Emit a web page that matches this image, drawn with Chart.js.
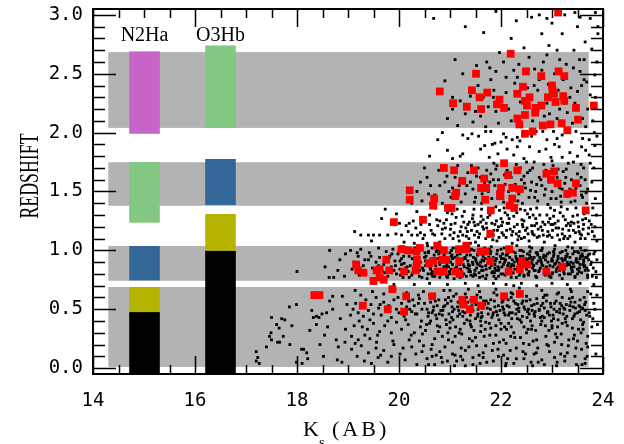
<!DOCTYPE html>
<html>
<head>
<meta charset="utf-8">
<title>Redshift vs Ks</title>
<script src="https://cdn.jsdelivr.net/npm/chart.js@4.4.1/dist/chart.umd.min.js"></script>
<style>
  html, body { margin: 0; padding: 0; background: #fff; }
  #wrap { width: 624px; height: 444px; }
</style>
</head>
<body>
<div id="wrap"><canvas id="zChart" width="624" height="444"></canvas></div>
<script>
// Axis ticks
const xTickValues = [14, 16, 18, 20, 22, 24];
const yTickValues = [0, 0.5, 1.0, 1.5, 2.0, 2.5, 3.0];

// Grey redshift windows (z ranges) and their Ks extent
const bandLow  = [0.01, 0.742, 1.379, 2.04];
const bandHigh = [0.689, 1.037, 1.748, 2.684];
const bandK    = [14.3, 23.72];

// Line coverage columns
const n2haK      = [14.71, 15.31];
const n2haLow    = [-0.05, 0.476, 0.745, 1.235, 1.99];
const n2haHigh   = [0.476, 0.689, 1.037, 1.75, 2.69];
const n2haColors = ['#000000', '#b4b400', '#336799', '#82c882', '#c864c8'];

const o3hbK      = [16.2, 16.8];
const o3hbLow    = [-0.05, 0.997, 1.385, 2.04];
const o3hbHigh   = [0.997, 1.309, 1.776, 2.74];
const o3hbColors = ['#000000', '#b4b400', '#336799', '#82c882'];

// Parent catalogue (Ks, z)
const fieldBright = [17.2,0.14, 17.23,0.09, 17.2,0.06, 17.26,0.04, 17.5,0.24, 17.46,0.27, 17.5,0.43, 17.6,0.37, 17.65,0.34, 17.7,0.42, 17.76,0.41, 17.73,0.27, 17.86,0.2, 17.66,0.22, 17.99,0.54, 17.99,0.05, 18.1,0.04, 18.09,0.16, 18.13,0.16, 18.19,0.13, 18.21,0.08, 18.25,0.32, 18.29,0.49, 18.32,0.43, 18.38,0.44, 18.38,0.37, 18.43,0.43, 18.49,0.46, 18.52,0.1, 18.54,0.28, 18.58,0.47, 18.64,0.57, 18.7,0.61, 18.77,0.24, 18.79,0.07, 18.81,0.18, 18.88,0.05, 18.89,0.61, 18.94,0.22, 18.98,0.54, 17.4,0.18, 17.9,0.36, 18.6,0.35, 18.7,0.5, 18.85,0.42, 18.95,0.33, 17.85,0.52, 18.45,0.2, 17.49,0.3, 17.62,0.22];

const fieldLowZ = [19.07,0.27, 19.07,0.16, 19.14,0.66, 19.14,0.21, 19.2,0.24, 19.26,0.19, 19.33,0.28, 19.43,0.25, 19.46,0.04, 19.56,0.22, 19.59,0.09, 19.64,0.11, 19.05,0.45, 19.1,0.5, 19.15,0.55, 19.2,0.47, 19.25,0.52, 19.3,0.44, 19.35,0.58, 19.4,0.49, 19.45,0.54, 19.5,0.46, 19.55,0.6, 19.6,0.51, 19.65,0.45, 19.7,0.56, 19.75,0.49, 19.8,0.53, 19.85,0.43, 19.9,0.58, 19.95,0.5, 20.0,0.47, 20.05,0.55, 20.1,0.44, 20.15,0.52, 20.2,0.57, 20.25,0.48, 20.3,0.53, 20.35,0.46, 20.4,0.59, 20.45,0.5, 19.12,0.36, 19.22,0.4, 19.38,0.33, 19.5,0.38, 19.62,0.31, 19.72,0.36, 19.85,0.3, 19.95,0.39, 20.05,0.33, 20.18,0.37, 20.3,0.3, 20.42,0.35, 19.25,0.62, 19.48,0.65, 19.7,0.63, 19.92,0.67, 20.15,0.64, 20.38,0.62, 19.18,0.1, 19.32,0.06, 19.7,0.15, 19.78,0.05, 19.9,0.2, 20.02,0.12, 20.12,0.07, 20.25,0.18, 20.35,0.03, 20.45,0.14, 19.55,0.17, 19.85,0.1, 20.2,0.24, 20.4,0.23, 19.4,0.13];

const fieldLowZFaint = [20.5,0.55, 20.52,0.32, 20.55,0.08, 20.58,0.47, 20.6,0.62, 20.62,0.4, 20.65,0.2, 20.68,0.52, 20.7,0.03, 20.72,0.45, 20.75,0.36, 20.78,0.58, 20.8,0.14, 20.82,0.49, 20.85,0.27, 20.88,0.66, 20.9,0.53, 20.92,0.41, 20.95,0.06, 20.98,0.46, 21.0,0.34, 21.02,0.57, 21.05,0.22, 21.08,0.5, 21.1,0.11, 21.12,0.63, 21.15,0.44, 21.18,0.3, 21.2,0.55, 21.22,0.17, 21.25,0.48, 21.28,0.38, 21.3,0.02, 21.32,0.6, 21.35,0.51, 21.38,0.25, 21.4,0.45, 21.42,0.35, 21.45,0.09, 21.48,0.56, 21.5,0.42, 21.52,0.19, 21.55,0.5, 21.58,0.65, 21.6,0.31, 21.62,0.47, 21.65,0.13, 21.68,0.54, 21.7,0.39, 21.72,0.05, 21.75,0.46, 21.78,0.28, 21.8,0.58, 21.82,0.43, 21.85,0.21, 21.88,0.52, 21.9,0.36, 21.92,0.62, 21.95,0.1, 21.98,0.49, 22.0,0.33, 22.02,0.56, 22.05,0.24, 22.08,0.45, 22.1,0.04, 22.12,0.53, 22.15,0.38, 22.18,0.15, 22.2,0.6, 22.22,0.47, 22.25,0.3, 22.28,0.55, 22.3,0.08, 22.32,0.42, 22.35,0.51, 22.38,0.26, 22.4,0.64, 22.42,0.44, 22.45,0.35, 22.48,0.12, 22.5,0.57, 22.52,0.48, 22.55,0.2, 22.58,0.4, 22.6,0.53, 22.62,0.02, 22.65,0.46, 22.68,0.32, 22.7,0.59, 22.72,0.17, 22.75,0.5, 22.78,0.37, 22.8,0.07, 22.82,0.55, 22.85,0.43, 22.88,0.27, 22.9,0.62, 22.92,0.48, 22.95,0.14, 22.98,0.52, 23.0,0.34, 23.02,0.45, 23.05,0.22, 23.08,0.57, 23.1,0.05, 23.12,0.41, 23.15,0.5, 23.18,0.29, 23.2,0.6, 23.22,0.46, 23.25,0.1, 23.28,0.54, 23.3,0.36, 23.32,0.19, 23.35,0.49, 23.38,0.65, 23.4,0.42, 23.42,0.25, 23.45,0.56, 23.48,0.03, 23.5,0.47, 23.52,0.33, 23.55,0.58, 23.58,0.16, 23.6,0.51, 23.62,0.39, 23.65,0.08, 23.68,0.45, 23.7,0.27,
  20.55,0.5, 20.65,0.47, 20.75,0.53, 20.85,0.45, 20.95,0.55, 21.05,0.48, 21.15,0.52, 21.25,0.44, 21.35,0.56, 21.45,0.49, 21.55,0.46, 21.65,0.51, 21.75,0.55, 21.85,0.47, 21.95,0.53, 22.05,0.5, 22.15,0.45, 22.25,0.57, 22.35,0.48, 22.45,0.52, 22.55,0.46, 22.65,0.54, 22.75,0.49, 22.85,0.51, 22.95,0.45, 23.05,0.55, 23.15,0.47, 23.25,0.5, 23.35,0.53, 23.45,0.46, 23.55,0.52, 23.65,0.49, 20.6,0.38, 20.8,0.35, 21.0,0.39, 21.2,0.33, 21.4,0.37, 21.6,0.4, 21.8,0.34, 22.0,0.38, 22.2,0.35, 22.4,0.39, 22.6,0.33, 22.8,0.4, 23.0,0.36, 23.2,0.38, 23.4,0.34, 23.6,0.37, 20.7,0.25, 20.9,0.18, 21.1,0.27, 21.3,0.15, 21.5,0.26, 21.7,0.19, 21.9,0.28, 22.1,0.21, 22.3,0.17, 22.5,0.3, 22.7,0.24, 22.9,0.2, 23.1,0.26, 23.3,0.13, 23.5,0.23, 23.7,0.18, 20.65,0.1, 20.85,0.05, 21.05,0.12, 21.25,0.07, 21.45,0.03, 21.65,0.09, 21.85,0.06, 22.05,0.11, 22.25,0.04, 22.45,0.08, 22.65,0.12, 22.85,0.03, 23.05,0.09, 23.25,0.06, 23.45,0.1, 23.65,0.04, 20.7,0.62, 21.0,0.66, 21.3,0.63, 21.6,0.6, 21.9,0.67, 22.2,0.64, 22.5,0.61, 22.8,0.66, 23.1,0.63, 23.4,0.6, 23.7,0.65];

const fieldLowZExtra = [20.13,0.41, 20.27,0.58, 20.33,0.12, 20.46,0.29, 20.57,0.44, 20.63,0.16, 20.71,0.57, 20.77,0.31, 20.83,0.09, 20.87,0.52, 20.93,0.37, 20.97,0.24, 21.03,0.43, 21.07,0.61, 21.13,0.06, 21.17,0.49, 21.23,0.29, 21.27,0.55, 21.33,0.41, 21.37,0.18, 21.43,0.53, 21.47,0.32, 21.53,0.62, 21.57,0.11, 21.63,0.44, 21.67,0.27, 21.73,0.51, 21.77,0.38, 21.83,0.15, 21.87,0.57, 21.93,0.45, 21.97,0.22, 22.03,0.52, 22.07,0.35, 22.13,0.08, 22.17,0.47, 22.23,0.63, 22.27,0.26, 22.33,0.54, 22.37,0.41, 22.43,0.14, 22.47,0.5, 22.53,0.33, 22.57,0.58, 22.63,0.23, 22.67,0.48, 22.73,0.05, 22.77,0.43, 22.83,0.6, 22.87,0.36, 22.93,0.19, 22.97,0.55, 23.03,0.42, 23.07,0.29, 23.13,0.64, 23.17,0.12, 23.23,0.51, 23.27,0.39, 23.33,0.24, 23.37,0.56, 23.43,0.44, 23.47,0.17, 23.53,0.53, 23.57,0.3, 23.63,0.6, 23.67,0.21, 23.73,0.47, 23.78,0.35, 23.82,0.55, 23.86,0.12, 23.8,0.42, 23.88,0.62, 20.21,0.5, 20.38,0.55, 20.54,0.37, 20.67,0.49, 20.79,0.46, 20.91,0.58, 21.04,0.52, 21.16,0.56, 21.29,0.47, 21.41,0.58, 21.54,0.44, 21.66,0.57, 21.79,0.5, 21.91,0.48, 22.04,0.57, 22.16,0.52, 22.29,0.46, 22.41,0.55, 22.54,0.5, 22.66,0.44, 22.79,0.53, 22.91,0.47, 23.04,0.5, 23.16,0.55, 23.29,0.44, 23.41,0.52, 23.54,0.48, 23.66,0.56, 20.24,0.28, 20.48,0.19, 20.73,0.11, 20.96,0.3, 21.21,0.1, 21.44,0.23, 21.69,0.33, 21.94,0.16, 22.19,0.27, 22.44,0.21, 22.69,0.13, 22.94,0.32, 23.19,0.2, 23.44,0.28, 23.69,0.1, 20.58,0.03, 21.09,0.02, 21.59,0.04, 22.09,0.02, 22.59,0.05, 23.09,0.02, 23.59,0.03, 21.36,0.67, 21.86,0.64, 22.36,0.68, 22.86,0.62, 23.36,0.67, 23.76,0.63, 20.48,0.65, 19.98,0.6, 19.78,0.4, 19.63,0.54, 19.43,0.41, 19.28,0.35, 19.58,0.28, 19.88,0.23, 20.08,0.17, 20.32,0.46, 20.19,0.57, 20.44,0.4];

const fieldLowZDense = [20.62,0.56, 20.74,0.42, 20.86,0.49, 20.97,0.6, 21.06,0.41, 21.19,0.46, 21.31,0.53, 21.39,0.4, 21.51,0.54, 21.61,0.43, 21.71,0.57, 21.84,0.45, 21.96,0.41, 22.06,0.47, 22.14,0.58, 22.21,0.42, 22.31,0.5, 22.43,0.57, 22.51,0.43, 22.61,0.49, 22.71,0.55, 22.81,0.44, 22.89,0.57, 22.99,0.4, 23.09,0.48, 23.19,0.53, 23.26,0.42, 23.34,0.59, 23.46,0.51, 23.56,0.41, 23.64,0.54, 23.74,0.44, 23.84,0.5, 23.89,0.37, 21.11,0.35, 21.61,0.36, 22.11,0.33, 22.61,0.36, 23.11,0.35, 23.61,0.33];

const fieldGap07 = [20.3,0.71, 20.6,0.72, 20.95,0.71, 21.3,0.72, 21.55,0.7, 21.85,0.72, 22.1,0.71, 22.4,0.72, 22.7,0.7, 23.0,0.72, 23.3,0.71, 23.55,0.72, 19.5,0.72, 19.9,0.71, 23.82,0.71, 22.25,0.7];

const fieldZ09 = [18.0,0.82, 18.64,1.0, 18.84,0.92, 18.95,0.97, 19.05,1.0, 18.63,0.77, 18.72,0.77, 18.93,0.78, 19.08,0.84, 19.12,0.9, 19.2,0.95, 19.25,1.01, 19.3,0.87, 19.35,0.8, 19.4,0.92, 19.42,0.98, 19.48,0.85, 19.52,0.76, 19.55,0.9, 19.6,1.02, 19.62,0.94, 19.68,0.82, 19.7,0.88, 19.75,0.99, 19.78,0.78, 19.82,0.95, 19.85,0.86, 19.88,1.01, 19.92,0.91, 19.95,0.8, 19.98,0.97, 20.02,0.84, 20.05,0.93, 20.08,0.77, 20.1,0.89, 20.15,1.02, 20.18,0.82, 20.2,0.95, 20.22,0.87, 20.25,0.79, 20.28,0.99, 20.3,0.92, 20.32,0.85, 20.38,0.97, 20.4,0.78, 20.42,0.9, 20.45,1.01, 20.48,0.83, 20.5,0.94, 20.52,0.87, 20.55,0.76, 20.58,0.98, 20.6,0.91, 20.62,0.84, 20.65,1.02, 20.68,0.8, 20.7,0.93, 20.72,0.87, 20.78,0.97, 20.8,0.77, 20.82,0.9, 20.85,0.83, 20.88,0.95, 20.9,1.01, 20.92,0.86, 20.95,0.79, 20.98,0.92, 21.0,0.98, 21.02,0.84, 21.05,0.88, 21.08,0.76, 21.1,0.94, 21.12,1.02, 21.15,0.82, 21.18,0.89, 21.2,0.97, 21.22,0.8, 21.25,0.92, 21.28,0.86, 21.3,0.99, 21.32,0.78, 21.35,0.91, 21.38,0.84, 21.4,0.96, 21.42,1.01, 21.45,0.88, 21.48,0.8, 21.5,0.93, 21.52,0.85, 21.55,0.98, 21.58,0.77, 21.6,0.9, 21.62,0.83, 21.65,0.95, 21.68,1.02, 21.7,0.87, 21.72,0.79, 21.75,0.92, 21.78,0.85, 21.8,0.99, 21.82,0.81, 21.85,0.94, 21.88,0.88, 21.9,0.76, 21.92,0.97, 21.95,0.83, 21.98,0.9, 22.0,1.01, 22.02,0.86, 22.05,0.93, 22.08,0.79, 22.1,0.96, 22.12,0.84, 22.15,0.89, 22.18,1.02, 22.2,0.8, 22.22,0.92, 22.25,0.87, 22.28,0.98, 22.3,0.77, 22.32,0.91, 22.35,0.83, 22.38,0.95, 22.4,1.0, 22.42,0.86, 22.45,0.79, 22.48,0.93, 22.5,0.88, 22.52,0.97, 22.55,0.82, 22.58,0.9, 22.6,1.02, 22.62,0.85, 22.65,0.94, 22.68,0.78, 22.7,0.89, 22.72,0.96, 22.75,0.83, 22.78,0.92, 22.8,1.0, 22.82,0.87, 22.85,0.8, 22.88,0.95, 22.9,0.84, 22.92,0.9, 22.95,0.98, 22.98,0.77, 23.0,0.93, 23.02,0.86, 23.05,1.01, 23.08,0.82, 23.1,0.91, 23.12,0.95, 23.15,0.79, 23.18,0.88, 23.2,0.99, 23.22,0.84, 23.25,0.92, 23.28,0.87, 23.3,0.97, 23.32,0.8, 23.35,0.94, 23.38,0.86, 23.4,1.02, 23.42,0.89, 23.45,0.78, 23.48,0.93, 23.5,0.84, 23.52,0.98, 23.55,0.88, 23.58,0.81, 23.6,0.95, 23.62,0.9, 23.65,1.0, 23.68,0.85, 23.7,0.79, 23.72,0.92,
  20.0,0.99, 20.12,0.99, 20.35,1.0, 20.58,0.99, 20.75,1.0, 21.03,1.0, 21.27,0.99, 21.47,1.0, 21.7,0.99, 21.93,1.0, 22.15,0.99, 22.37,1.0, 22.57,0.99, 22.78,1.0, 23.03,0.99, 23.27,1.0, 23.5,0.99, 19.8,0.93, 20.05,0.88, 20.3,0.88, 20.55,0.88, 20.8,0.88, 21.05,0.93, 21.3,0.93, 21.55,0.88, 21.8,0.93, 22.05,0.88, 22.3,0.93, 22.55,0.93, 22.8,0.88, 23.05,0.88, 23.3,0.9, 23.55,0.93, 19.9,0.83, 20.15,0.83, 20.4,0.83, 20.65,0.82, 20.9,0.83, 21.15,0.84, 21.4,0.82, 21.65,0.83, 21.9,0.83, 22.15,0.82, 22.4,0.84, 22.65,0.83, 22.9,0.82, 23.15,0.83, 23.4,0.82, 23.65,0.83, 20.2,0.77, 20.45,0.77, 20.7,0.78, 20.95,0.77, 21.2,0.77, 21.45,0.78, 21.7,0.76, 21.95,0.78, 22.2,0.77, 22.45,0.78, 22.7,0.77, 22.95,0.78, 23.2,0.76, 23.45,0.77, 23.7,0.77];

const fieldZ09Extra = [19.86,0.97, 19.93,0.87, 20.03,0.79, 20.09,0.95, 20.16,0.86, 20.23,1.0, 20.27,0.81, 20.34,0.9, 20.39,0.94, 20.46,0.85, 20.51,0.98, 20.57,0.8, 20.63,0.89, 20.69,0.96, 20.74,0.84, 20.81,0.99, 20.86,0.91, 20.93,0.78, 20.97,0.86, 21.03,0.95, 21.09,0.82, 21.13,0.99, 21.19,0.88, 21.24,0.78, 21.29,0.94, 21.34,0.85, 21.39,1.0, 21.44,0.9, 21.49,0.83, 21.54,0.96, 21.59,0.87, 21.64,0.78, 21.69,0.93, 21.74,0.89, 21.79,0.97, 21.84,0.82, 21.89,0.91, 21.94,0.86, 21.99,0.95, 22.04,0.8, 22.09,0.92, 22.14,0.98, 22.19,0.86, 22.24,0.81, 22.29,0.95, 22.34,0.89, 22.39,0.84, 22.44,0.99, 22.49,0.9, 22.54,0.79, 22.59,0.94, 22.64,0.87, 22.69,0.98, 22.74,0.82, 22.79,0.9, 22.84,0.96, 22.89,0.86, 22.94,0.79, 22.99,0.91, 23.04,0.97, 23.09,0.84, 23.14,0.89, 23.19,0.93, 23.24,0.8, 23.29,0.95, 23.34,0.88, 23.39,0.83, 23.44,0.99, 23.49,0.9, 23.54,0.85, 23.59,0.97, 23.64,0.87, 23.69,0.94, 23.76,0.88, 23.82,0.97, 23.86,0.82, 23.79,0.78, 23.88,0.92, 20.02,0.91, 20.26,0.93, 20.52,0.91, 20.77,0.93, 21.01,0.9, 21.26,0.88, 21.51,0.91, 21.76,0.94, 22.01,0.93, 22.26,0.9, 22.51,0.92, 22.76,0.94, 23.01,0.91, 23.26,0.93, 23.51,0.9, 23.71,0.96, 20.13,0.85, 20.38,0.86, 20.63,0.8, 20.88,0.86, 21.13,0.86, 21.38,0.87, 21.63,0.86, 21.88,0.85, 22.13,0.87, 22.38,0.81, 22.63,0.87, 22.88,0.85, 23.13,0.86, 23.38,0.85, 23.63,0.86, 20.06,1.03, 20.31,1.02, 20.56,1.04, 20.81,1.03, 21.06,1.02, 21.31,1.03, 21.56,1.04, 21.81,1.03, 22.06,1.02, 22.31,1.04, 22.56,1.03, 22.81,1.02, 23.06,1.04, 23.31,1.03, 23.56,1.02, 19.6,0.87, 19.45,0.95, 19.33,0.92, 19.22,0.79, 19.72,0.81, 19.18,0.98, 18.55,0.86, 18.8,0.83];

const fieldZ09Dense = [20.53,0.95, 20.61,0.86, 20.66,0.78, 20.73,0.99, 20.79,0.9, 20.84,0.8, 20.89,0.97, 20.94,0.88, 20.99,0.82, 21.04,0.96, 21.11,0.85, 21.16,0.93, 21.21,0.84, 21.23,1.0, 21.27,0.8, 21.33,0.96, 21.36,0.88, 21.41,0.79, 21.46,0.94, 21.53,0.89, 21.57,0.81, 21.61,0.97, 21.66,0.91, 21.71,0.84, 21.77,1.01, 21.81,0.87, 21.86,0.78, 21.91,0.93, 21.96,0.85, 22.03,0.97, 22.07,0.9, 22.11,0.81, 22.17,0.94, 22.21,0.88, 22.23,0.99, 22.27,0.84, 22.33,0.92, 22.36,0.79, 22.43,0.95, 22.46,0.87, 22.53,0.8, 22.56,0.96, 22.61,0.89, 22.67,0.83, 22.71,0.98, 22.73,0.91, 22.77,0.85, 22.83,0.94, 22.87,0.79, 22.91,0.97, 22.96,0.87, 23.01,0.81, 23.03,0.95, 23.07,0.89, 23.11,0.85, 23.16,0.98, 23.21,0.91, 23.23,0.82, 23.27,0.95, 23.31,0.88, 23.36,0.8, 23.41,0.97, 23.43,0.86, 23.47,0.91, 23.53,0.82, 23.56,0.95, 23.61,0.88, 23.66,0.94, 23.71,0.83, 23.74,0.97, 23.77,0.9, 23.81,0.85, 23.84,0.99, 23.87,0.77, 21.14,0.96, 21.63,0.92, 22.12,0.96, 22.62,0.92, 23.12,0.93, 23.62,0.92, 21.37,0.82, 21.87,0.81, 22.37,0.88, 22.87,0.92, 23.37,0.9, 21.0,0.8, 21.5,0.79, 22.0,0.8, 22.5,0.84, 23.0,0.8, 23.5,0.8];

const fieldZ12 = [19.13,1.16, 19.25,1.13, 19.4,1.13, 19.5,1.13, 19.62,1.13, 19.78,1.13, 19.94,1.14, 20.05,1.13, 20.25,1.13, 20.36,1.13, 20.42,1.15, 20.5,1.13, 19.46,1.08, 19.73,1.35, 19.66,1.27, 19.95,1.31, 20.01,1.23, 20.2,1.23, 20.14,1.21, 20.28,1.25, 20.43,1.22, 20.6,1.3, 20.72,1.36, 20.8,1.25, 20.85,1.18, 20.9,1.1, 20.95,1.32, 21.02,1.22, 21.08,1.15, 21.12,1.28, 21.18,1.08, 21.22,1.2, 21.28,1.33, 21.32,1.12, 21.38,1.24, 21.42,1.17, 21.45,1.3, 21.5,1.07, 21.55,1.22, 21.58,1.14, 21.62,1.35, 21.65,1.26, 21.7,1.1, 21.72,1.19, 21.78,1.3, 21.82,1.23, 21.85,1.13, 21.9,1.37, 21.92,1.08, 21.95,1.2, 22.0,1.27, 22.02,1.15, 22.08,1.32, 22.1,1.11, 22.15,1.23, 22.18,1.18, 22.22,1.06, 22.25,1.29, 22.3,1.14, 22.32,1.22, 22.38,1.35, 22.4,1.1, 22.45,1.25, 22.48,1.17, 22.52,1.31, 22.55,1.08, 22.6,1.21, 22.62,1.14, 22.68,1.27, 22.7,1.36, 22.75,1.12, 22.78,1.2, 22.82,1.24, 22.85,1.07, 22.9,1.3, 22.92,1.16, 22.98,1.22, 23.0,1.11, 23.05,1.34, 23.08,1.19, 23.12,1.25, 23.15,1.09, 23.2,1.14, 23.22,1.29, 23.28,1.21, 23.3,1.35, 23.35,1.12, 23.38,1.24, 23.42,1.17, 23.45,1.07, 23.5,1.3, 23.52,1.2, 23.58,1.13, 23.6,1.26, 23.65,1.1, 23.68,1.33, 23.72,1.19, 21.0,1.13, 21.25,1.13, 21.48,1.13, 21.75,1.14, 22.05,1.13, 22.35,1.12, 22.65,1.13, 22.95,1.13, 23.25,1.12, 23.55,1.14, 21.1,1.23, 21.35,1.22, 21.6,1.24, 21.88,1.22, 22.12,1.23, 22.42,1.22, 22.7,1.23, 23.02,1.22, 23.32,1.23, 23.62,1.22, 20.7,1.13, 20.6,1.22, 20.88,1.23, 21.4,1.06, 22.58,1.35, 23.18,1.37, 20.35,1.33, 20.1,1.07, 20.3,1.06, 20.55,1.06, 20.8,1.07];

const fieldZ12Extra = [20.18,1.16, 20.33,1.19, 20.47,1.1, 20.63,1.17, 20.76,1.21, 20.84,1.14, 20.93,1.26, 21.01,1.18, 21.06,1.1, 21.14,1.35, 21.2,1.16, 21.27,1.24, 21.31,1.19, 21.37,1.1, 21.44,1.27, 21.49,1.21, 21.53,1.16, 21.61,1.29, 21.66,1.18, 21.71,1.23, 21.76,1.12, 21.81,1.33, 21.86,1.17, 21.91,1.25, 21.96,1.11, 22.01,1.21, 22.06,1.36, 22.11,1.17, 22.16,1.27, 22.21,1.13, 22.26,1.2, 22.31,1.32, 22.36,1.16, 22.41,1.26, 22.46,1.11, 22.51,1.19, 22.56,1.28, 22.61,1.16, 22.66,1.21, 22.71,1.11, 22.76,1.3, 22.81,1.17, 22.86,1.22, 22.91,1.12, 22.96,1.27, 23.01,1.17, 23.06,1.23, 23.11,1.13, 23.16,1.32, 23.21,1.18, 23.26,1.26, 23.31,1.1, 23.36,1.21, 23.41,1.29, 23.46,1.15, 23.51,1.24, 23.56,1.1, 23.61,1.18, 23.66,1.27, 23.71,1.14, 23.77,1.22, 23.83,1.12, 23.87,1.3, 23.8,1.36,
  20.66,1.14, 20.74,1.26, 20.91,1.19, 21.04,1.31, 21.16,1.12, 21.24,1.29, 21.34,1.16, 21.47,1.24, 21.56,1.11, 21.64,1.2, 21.74,1.28, 21.84,1.09, 21.93,1.17, 22.03,1.24, 22.13,1.3, 22.23,1.16, 22.33,1.09, 22.43,1.2, 22.53,1.14, 22.63,1.3, 22.73,1.18, 22.83,1.13, 22.93,1.24, 23.03,1.29, 23.13,1.19, 23.23,1.1, 23.33,1.17, 23.43,1.23, 23.53,1.16, 23.63,1.31, 23.73,1.25, 23.79,1.16, 23.84,1.2, 23.88,1.08, 21.97,1.34, 22.47,1.34, 22.97,1.36, 23.47,1.36, 21.47,1.35];

const fieldZ15 = [20.35,1.5, 20.45,1.42, 20.55,1.62, 20.62,1.55, 20.7,1.47, 20.78,1.68, 20.85,1.4, 20.9,1.58, 20.98,1.5, 21.02,1.45, 21.1,1.62, 21.15,1.72, 21.18,1.55, 21.22,1.41, 21.3,1.48, 21.35,1.66, 21.4,1.58, 21.45,1.52, 21.5,1.45, 21.55,1.7, 21.6,1.62, 21.62,1.4, 21.68,1.57, 21.75,1.5, 21.8,1.65, 21.82,1.44, 21.88,1.55, 21.92,1.72, 21.95,1.6, 22.0,1.47, 22.05,1.41, 22.08,1.56, 22.12,1.68, 22.15,1.5, 22.2,1.62, 22.22,1.44, 22.28,1.56, 22.3,1.73, 22.35,1.48, 22.4,1.6, 22.42,1.4, 22.48,1.53, 22.52,1.66, 22.55,1.45, 22.6,1.58, 22.62,1.7, 22.68,1.5, 22.72,1.42, 22.75,1.62, 22.8,1.55, 22.85,1.47, 22.88,1.68, 22.92,1.39, 22.95,1.58, 23.0,1.5, 23.02,1.72, 23.08,1.44, 23.1,1.62, 23.15,1.53, 23.18,1.41, 23.22,1.67, 23.25,1.57, 23.3,1.46, 23.32,1.74, 23.38,1.6, 23.4,1.5, 23.45,1.42, 23.5,1.65, 23.55,1.55, 23.58,1.47, 23.62,1.7, 23.65,1.6, 23.68,1.4, 23.7,1.52, 21.05,1.53, 21.25,1.6, 21.48,1.41, 21.72,1.68, 21.98,1.53, 22.25,1.38, 22.45,1.63, 22.7,1.56, 22.98,1.44, 23.2,1.52, 23.45,1.58, 23.6,1.45, 20.5,1.7, 20.25,1.4, 20.62,1.4, 21.85,1.6, 22.58,1.51, 23.12,1.69, 23.35,1.52,
  20.72,1.45, 20.94,1.63, 21.16,1.47, 21.33,1.55, 21.52,1.63, 21.63,1.48, 21.78,1.58, 21.94,1.44, 22.07,1.64, 22.18,1.55, 22.33,1.42, 22.46,1.57, 22.57,1.68, 22.66,1.45, 22.78,1.6, 22.87,1.52, 22.97,1.66, 23.07,1.55, 23.17,1.46, 23.27,1.62, 23.37,1.41, 23.47,1.53, 23.57,1.62, 23.67,1.49, 23.78,1.58, 23.85,1.44, 23.82,1.7, 21.42,1.72, 21.9,1.69, 22.38,1.7, 22.84,1.73, 23.28,1.69, 23.75,1.74, 20.42,1.58, 20.58,1.48, 20.8,1.55];

const fieldZ19 = [21.43,1.99, 21.56,1.97, 21.7,2.01, 21.8,2.01, 21.88,1.91, 21.83,1.9, 21.94,1.82, 22.1,1.96, 22.12,1.86, 22.25,1.81, 22.32,1.88, 22.32,1.96, 22.37,1.93, 22.43,1.98, 22.56,1.88, 22.69,2.01, 22.82,2.01, 22.9,1.94, 23.03,2.01, 23.14,1.88, 23.2,1.98, 23.31,2.01, 23.47,2.01, 23.58,1.88, 23.73,1.94, 23.83,2.0, 23.84,1.89, 23.73,1.81, 23.57,1.73, 21.25,1.82, 21.2,1.8, 21.86,1.74, 21.77,1.79, 22.5,1.75, 22.65,1.75, 22.98,1.79, 23.2,1.79, 23.35,1.83, 23.42,1.75, 20.76,1.94, 20.95,1.85, 21.05,1.78, 21.6,1.86, 22.0,1.92, 22.75,1.84, 23.05,1.9, 23.6,1.95, 20.6,1.8, 21.35,1.95, 21.68,1.89, 22.05,1.99, 22.22,1.94, 22.6,1.97, 22.88,1.86, 23.1,1.95, 23.38,1.92, 23.66,1.85, 23.88,1.97, 21.25,1.98, 20.85,2.0, 22.45,1.78, 23.0,1.76, 23.5,1.8];

const fieldZ23 = [21.97,2.68, 21.72,2.6, 21.78,2.55, 21.9,2.52, 22.1,2.47, 22.25,2.53, 22.32,2.47, 22.66,2.54, 22.8,2.53, 23.15,2.62, 23.28,2.58, 23.54,2.62, 23.63,2.62, 23.63,2.45, 23.68,2.43, 23.84,2.49, 22.93,2.41, 23.37,2.38, 23.5,2.35, 23.12,2.36, 22.65,2.4, 22.4,2.37, 22.1,2.34, 21.86,2.36, 21.55,2.4, 21.4,2.31, 21.2,2.27, 21.05,2.2, 21.3,2.16, 21.6,2.14, 21.75,2.22, 21.9,2.18, 22.15,2.2, 22.38,2.26, 22.58,2.28, 22.72,2.36, 22.9,2.25, 23.15,2.2, 23.3,2.17, 23.45,2.25, 23.7,2.2, 23.6,2.12, 23.4,2.08, 23.1,2.12, 22.85,2.14, 22.62,2.1, 22.4,2.05, 22.2,2.1, 21.95,2.08, 21.7,2.05, 21.45,2.09, 21.15,2.06, 20.95,2.12, 21.05,2.3, 20.9,2.44, 21.25,2.5, 21.52,2.57, 21.8,2.45, 22.05,2.6, 22.55,2.64, 22.9,2.66, 23.05,2.5, 23.22,2.45, 23.75,2.32, 23.55,2.52, 22.48,2.15, 22.0,2.28, 21.65,2.3, 23.8,2.1, 23.35,2.3, 21.5,2.18, 21.85,2.3, 22.27,2.42, 22.52,2.38, 22.83,2.6, 23.25,2.25, 23.58,2.4, 23.88,2.6, 21.1,2.62, 22.35,2.58, 23.42,2.55, 22.75,2.45, 23.85,2.3, 22.95,2.16, 23.66,2.05];

const fieldZ28 = [20.68,2.97, 21.66,2.85, 22.8,2.84, 22.94,2.74, 23.1,2.7, 23.43,2.7, 22.6,2.98, 22.75,3.0, 22.9,2.97, 23.25,3.0, 23.45,3.02, 23.55,2.98, 23.75,2.97, 23.9,2.9, 23.9,2.84, 23.5,2.9, 23.0,2.93, 22.3,2.95, 21.9,3.03, 22.45,2.72, 23.65,2.77, 21.3,2.9, 23.78,2.71, 22.2,2.8, 23.2,2.84, 23.85,3.02];

// Spectroscopic targets (red squares)
const targetsHighZ = [23.12,3.02, 22.19,2.67, 22.49,2.52, 21.51,2.5, 23.13,2.52, 23.24,2.48, 22.79,2.48, 20.8,2.35, 21.43,2.36, 21.73,2.34, 22.43,2.39, 23.0,2.4, 23.01,2.36, 22.32,2.33, 21.58,2.3, 23.04,2.33, 23.22,2.31, 22.92,2.3, 22.56,2.3, 21.06,2.25, 21.33,2.22, 21.61,2.2, 21.97,2.28, 21.92,2.24, 22.06,2.21, 22.47,2.27, 22.51,2.23, 22.68,2.21, 22.67,2.17, 22.79,2.23, 23.07,2.26, 23.24,2.27, 23.47,2.21, 23.82,2.23, 22.32,2.12, 22.47,2.15, 22.36,2.07, 22.82,2.06, 22.97,2.07, 23.19,2.08, 23.51,2.11, 23.3,2.02, 22.47,1.99, 22.62,2.01];

const targetsMidZ = [22.06,1.74, 20.88,1.7, 21.08,1.68, 21.47,1.68, 22.32,1.68, 22.14,1.64, 22.89,1.65, 23.04,1.67, 21.67,1.61, 21.24,1.59, 22.98,1.6, 23.11,1.57, 23.47,1.57, 21.61,1.53, 21.71,1.53, 22.0,1.53, 22.22,1.53, 22.37,1.52, 21.98,1.48, 21.12,1.49, 23.3,1.48, 23.41,1.49, 20.69,1.44, 21.1,1.46, 21.69,1.43, 21.99,1.46, 22.22,1.44, 20.21,1.51, 20.21,1.43, 20.67,1.38, 21.03,1.36, 20.96,1.36, 22.17,1.38, 22.26,1.36, 21.8,1.34, 23.66,1.34, 19.9,1.24, 20.47,1.26, 21.79,1.14];

const targetsLowZ = [20.75,1.04, 20.05,1.01, 20.18,1.0, 20.34,0.99, 20.41,1.02, 20.88,1.0, 21.18,1.01, 21.32,1.01, 21.32,1.04, 21.6,0.99, 21.69,0.99, 22.16,1.01, 19.75,0.92, 20.35,0.92, 20.35,0.88, 20.59,0.89, 20.67,0.91, 20.85,0.92, 20.92,0.92, 21.18,0.91, 21.79,0.91, 22.41,0.91, 22.51,0.88, 22.37,0.84, 23.2,0.86, 19.16,0.88, 19.2,0.83, 19.3,0.81, 19.56,0.83, 19.62,0.84, 19.81,0.83, 20.1,0.82, 20.33,0.83, 20.75,0.82, 20.88,0.82, 21.11,0.82, 21.19,0.8, 22.15,0.82, 22.89,0.82, 19.62,0.77, 19.7,0.75, 19.5,0.74, 19.87,0.67, 18.34,0.62, 18.44,0.62, 20.14,0.61, 20.65,0.61, 21.24,0.58, 21.26,0.54, 21.47,0.58, 21.39,0.5, 21.61,0.53, 22.06,0.61, 22.37,0.63, 19.29,0.53, 19.78,0.5, 20.1,0.48];

function toPoints(flat) {
    const pts = [];
    for (let i = 0; i + 1 < flat.length; i += 2) {
        pts.push({ x: flat[i], y: flat[i + 1] });
    }
    return pts;
}

const fieldPoints = [].concat(
    toPoints(fieldBright), toPoints(fieldLowZ), toPoints(fieldLowZFaint), toPoints(fieldLowZExtra),
    toPoints(fieldLowZDense), toPoints(fieldGap07), toPoints(fieldZ09), toPoints(fieldZ09Extra),
    toPoints(fieldZ09Dense), toPoints(fieldZ12), toPoints(fieldZ12Extra), toPoints(fieldZ15),
    toPoints(fieldZ19), toPoints(fieldZ23), toPoints(fieldZ28)
);
const targetPoints = [].concat(toPoints(targetsHighZ), toPoints(targetsMidZ), toPoints(targetsLowZ));

function fillBox(ctx, xs, ys, k0, k1, z0, z1) {
    const left = xs.getPixelForValue(k0);
    const right = xs.getPixelForValue(k1);
    const top = ys.getPixelForValue(z1);
    const bottom = ys.getPixelForValue(z0);
    ctx.fillRect(left, top, right - left, bottom - top);
}

// Grey windows and the coloured line-coverage columns, under the points
const windowsPlugin = {
    id: 'windows',
    beforeDatasetsDraw(chart) {
        const { ctx, chartArea, scales: { x, y } } = chart;
        ctx.save();
        ctx.beginPath();
        ctx.rect(chartArea.left, chartArea.top, chartArea.right - chartArea.left, chartArea.bottom - chartArea.top);
        ctx.clip();
        ctx.fillStyle = '#b3b3b3';
        for (let i = 0; i < bandLow.length; i++) {
            fillBox(ctx, x, y, bandK[0], bandK[1], bandLow[i], bandHigh[i]);
        }
        for (let i = 0; i < n2haLow.length; i++) {
            ctx.fillStyle = n2haColors[i];
            fillBox(ctx, x, y, n2haK[0], n2haK[1], n2haLow[i], n2haHigh[i]);
        }
        for (let i = 0; i < o3hbLow.length; i++) {
            ctx.fillStyle = o3hbColors[i];
            fillBox(ctx, x, y, o3hbK[0], o3hbK[1], o3hbLow[i], o3hbHigh[i]);
        }
        ctx.restore();
    }
};

// IDL-style box: frame, inward ticks on all four sides, titles
const framePlugin = {
    id: 'frame',
    afterDatasetsDraw(chart) {
        const { ctx, chartArea: area, scales: { x, y } } = chart;
        ctx.save();
        ctx.strokeStyle = '#000';

        ctx.lineWidth = 1.5;
        ctx.beginPath();
        for (let i = 0; i <= 20; i++) {
            const v = 14 + i * 0.5;
            const px = Math.round(x.getPixelForValue(v)) + 0.5;
            const len = (i % 4 === 0) ? 18 : 9;
            ctx.moveTo(px, area.bottom); ctx.lineTo(px, area.bottom - len);
            ctx.moveTo(px, area.top); ctx.lineTo(px, area.top + len);
        }
        for (let i = 0; i <= 30; i++) {
            const v = i / 10;
            const py = Math.round(y.getPixelForValue(v)) + 0.5;
            const len = (i % 5 === 0) ? 23 : 12;
            ctx.moveTo(area.left, py); ctx.lineTo(area.left + len, py);
            ctx.moveTo(area.right, py); ctx.lineTo(area.right - len, py);
        }
        ctx.stroke();

        ctx.lineWidth = 2;
        ctx.strokeRect(area.left, area.top, area.right - area.left, area.bottom - area.top);
        ctx.restore();
    },
    afterDraw(chart) {
        const { ctx, scales: { x } } = chart;
        ctx.save();
        ctx.fillStyle = '#000';

        // line labels above the columns
        ctx.font = '20px "Liberation Serif"';
        ctx.textAlign = 'center';
        ctx.textBaseline = 'alphabetic';
        ctx.fillText('N2Ha', x.getPixelForValue((n2haK[0] + n2haK[1]) / 2), 41);
        ctx.fillText('O3Hb', x.getPixelForValue((o3hbK[0] + o3hbK[1]) / 2), 41);

        // x title: K_s (AB)
        ctx.textAlign = 'left';
        ctx.font = '22px "Liberation Serif"';
        ctx.fillText('K', 303, 436);
        ctx.font = '15px "Liberation Serif"';
        ctx.fillText('s', 319, 447);
        ctx.font = '22px "Liberation Serif"';
        ctx.letterSpacing = '3px';
        ctx.fillText('(AB)', 332, 436);
        ctx.letterSpacing = '0px';

        // y title, condensed like the vector font
        ctx.translate(38, 176);
        ctx.rotate(-Math.PI / 2);
        ctx.scale(0.66, 1);
        ctx.font = '27px "Liberation Serif"';
        ctx.textAlign = 'center';
        ctx.fillText('REDSHIFT', 0, 0);
        ctx.restore();
    }
};

new Chart(document.getElementById('zChart'), {
    type: 'scatter',
    data: {
        datasets: [{
            label: 'Targets',
            data: targetPoints,
            pointStyle: 'rect',
            pointRadius: 5.5,
            pointBorderWidth: 0,
            backgroundColor: '#ff0000',
            borderColor: '#ff0000',
            order: 0
        }, {
            label: 'Parent sample',
            data: fieldPoints,
            pointStyle: 'rect',
            pointRadius: 2.0,
            pointBorderWidth: 0,
            backgroundColor: '#000000',
            borderColor: '#000000',
            order: 1
        }]
    },
    options: {
        responsive: false,
        devicePixelRatio: 1,
        animation: false,
        events: [],
        layout: { padding: { left: 0, right: 21, top: 9, bottom: 0 } },
        plugins: {
            legend: { display: false },
            tooltip: { enabled: false }
        },
        scales: {
            x: {
                type: 'linear',
                min: 14,
                max: 24,
                afterBuildTicks: scale => { scale.ticks = xTickValues.map(v => ({ value: v })); },
                afterFit: scale => { scale.height = 70; },
                grid: { display: false, drawTicks: true, tickLength: 16 },
                border: { display: false },
                ticks: {
                    color: '#000',
                    padding: 0,
                    maxRotation: 0,
                    font: { family: '"DejaVu Sans Mono"', size: 19 },
                    callback: v => String(v)
                },
                title: { display: false }
            },
            y: {
                type: 'linear',
                min: -0.05,
                max: 3.05,
                afterBuildTicks: scale => { scale.ticks = yTickValues.map(v => ({ value: v })); },
                afterFit: scale => { scale.width = 93; },
                grid: { display: false, drawTicks: true, tickLength: 10 },
                border: { display: false },
                ticks: {
                    color: '#000',
                    padding: 0,
                    font: { family: '"DejaVu Sans Mono"', size: 19, lineHeight: 0.9 },
                    callback: v => Number(v).toFixed(1)
                },
                title: { display: false }
            }
        }
    },
    plugins: [windowsPlugin, framePlugin]
});
</script>
</body>
</html>
